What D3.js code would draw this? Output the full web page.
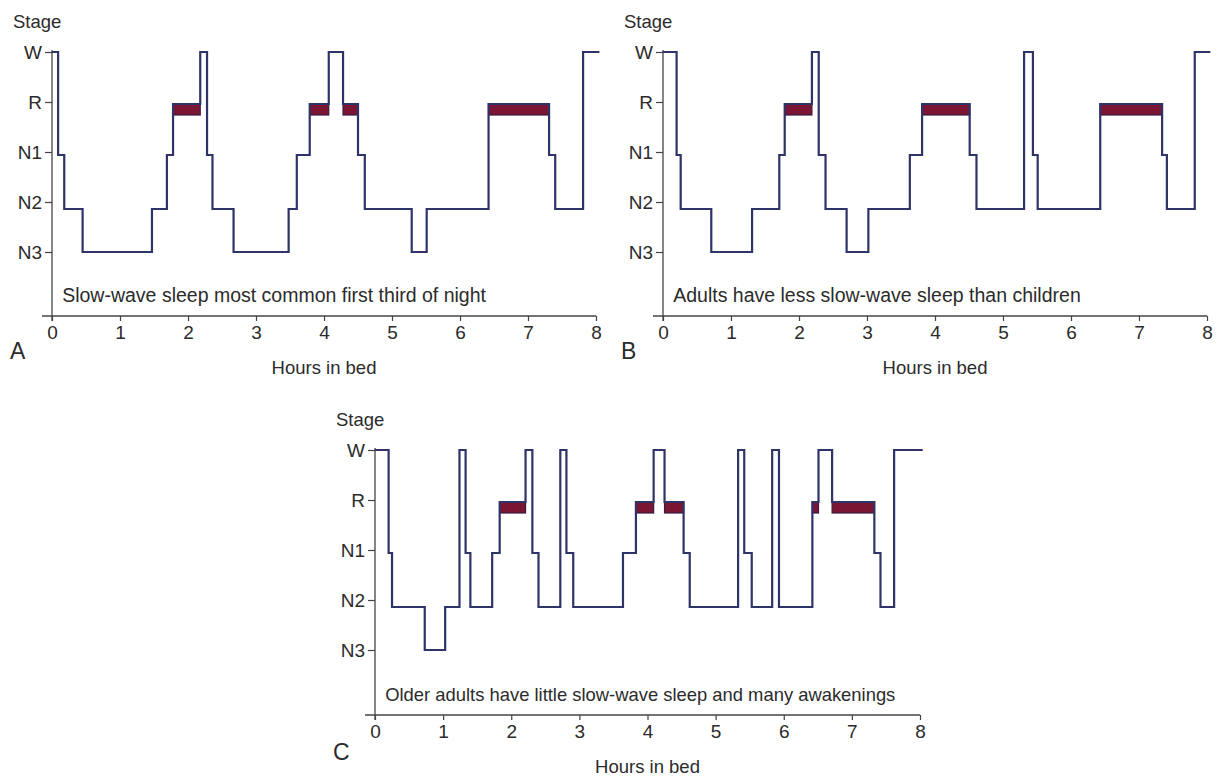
<!DOCTYPE html>
<html>
<head>
<meta charset="utf-8">
<script src="https://cdn.jsdelivr.net/npm/d3@7"></script>
<style>
  html, body { margin: 0; padding: 0; background: #ffffff; }
  svg { display: block; }
  text { font-family: "Liberation Sans", Arial, Helvetica, sans-serif; fill: #2b2b2b; }
</style>
</head>
<body>
<svg id="chart" width="1217" height="776"></svg>
<script>
// ---------- data ----------
const stageLabels = ["W", "R", "N1", "N2", "N3"];
// plotted level of each stage (0 = W at top), as drawn in the figure
const stageLevels = { W: 0, R: 1.04, N1: 2.06, N2: 3.14, N3: 4 };
const hourTicks = [0, 1, 2, 3, 4, 5, 6, 7, 8];

// Panel A: children
const timesA  = [0, 0.09, 0.18, 0.45, 1.47, 1.69, 1.78, 2.18, 2.28, 2.36, 2.67, 3.48, 3.60, 3.79, 4.07, 4.28, 4.50, 4.60, 5.29, 5.51, 6.42, 7.31, 7.40, 7.81];
const stagesA = ["W", "N1", "N2", "N3", "N2", "N1", "R", "W", "N1", "N2", "N3", "N2", "N1", "R", "W", "R", "N1", "N2", "N3", "N2", "R", "N1", "N2", "W"];
const endA = 8.05;
const noteA = "Slow-wave sleep most common first third of night";

// Panel B: adults
const timesB  = [0, 0.20, 0.26, 0.71, 1.31, 1.71, 1.79, 2.19, 2.29, 2.39, 2.70, 3.02, 3.63, 3.81, 4.51, 4.61, 5.31, 5.44, 5.51, 6.43, 7.34, 7.41, 7.82];
const stagesB = ["W", "N1", "N2", "N3", "N2", "N1", "R", "W", "N1", "N2", "N3", "N2", "N1", "R", "N1", "N2", "W", "N1", "N2", "R", "N1", "N2", "W"];
const endB = 8.05;
const noteB = "Adults have less slow-wave sleep than children";

// Panel C: older adults
const timesC  = [0, 0.20, 0.25, 0.73, 1.03, 1.24, 1.33, 1.40, 1.72, 1.83, 2.21, 2.31, 2.40, 2.72, 2.81, 2.91, 3.64, 3.83, 4.09, 4.25, 4.53, 4.62, 5.33, 5.42, 5.53, 5.83, 5.93, 6.42, 6.51, 6.71, 7.33, 7.42, 7.62];
const stagesC = ["W", "N1", "N2", "N3", "N2", "W", "N1", "N2", "N1", "R", "W", "N1", "N2", "W", "N1", "N2", "N1", "R", "W", "R", "N1", "N2", "W", "N1", "N2", "W", "N2", "R", "W", "R", "N1", "N2", "W"];
const endC = 8.04;
const noteC = "Older adults have little slow-wave sleep and many awakenings";

// ---------- layout ----------
const panels = [
  { letter: "A", times: timesA, stages: stagesA, end: endA, note: noteA, noteSize: 19.5, x0: 52,  x1: 596,  yTop: 52,  yAxis: 316, letterDy: 43 },
  { letter: "B", times: timesB, stages: stagesB, end: endB, note: noteB, noteSize: 19.5, x0: 663, x1: 1207, yTop: 52,  yAxis: 316, letterDy: 43 },
  { letter: "C", times: timesC, stages: stagesC, end: endC, note: noteC, noteSize: 18.4, x0: 375, x1: 920,  yTop: 450, yAxis: 715, letterDy: 45 }
];

const lineColor = "#2e3368";
const remColor = "#7a1533";
const axisColor = "#444444";

const svg = d3.select("#chart");

panels.forEach(p => {
  const g = svg.append("g");
  const x = d3.scaleLinear().domain([0, 8]).range([p.x0, p.x1]);
  const y = d3.scaleLinear().domain([0, 4]).range([p.yTop, p.yTop + 200]);
  const axisLevel = y.invert(p.yAxis);

  // x axis
  const xAxis = d3.axisBottom(x).tickValues(hourTicks).tickFormat(d3.format("d"))
    .tickSize(5).tickSizeOuter(0).tickPadding(5);
  const gx = g.append("g").attr("transform", `translate(0,${p.yAxis})`).call(xAxis);
  gx.select(".domain").remove();
  gx.selectAll(".tick line").attr("stroke", axisColor).attr("stroke-width", 1.2);
  gx.selectAll(".tick text").style("font-size", "19px").attr("fill", "#2b2b2b")
    .style("font-family", '"Liberation Sans", Arial, sans-serif');
  g.append("line")
    .attr("x1", p.x0 - 10).attr("x2", p.x1)
    .attr("y1", p.yAxis).attr("y2", p.yAxis)
    .attr("stroke", axisColor).attr("stroke-width", 1.3);

  // y axis
  const yAxis = d3.axisLeft(y).tickValues(d3.range(stageLabels.length))
    .tickFormat(i => stageLabels[i]).tickSize(7).tickSizeOuter(0).tickPadding(3);
  const gy = g.append("g").attr("transform", `translate(${p.x0},0)`).call(yAxis);
  gy.select(".domain").remove();
  gy.selectAll(".tick line").attr("stroke", axisColor).attr("stroke-width", 1.2);
  gy.selectAll(".tick text").style("font-size", "19px").attr("fill", "#2b2b2b")
    .style("font-family", '"Liberation Sans", Arial, sans-serif');
  g.append("line")
    .attr("x1", p.x0).attr("x2", p.x0)
    .attr("y1", y(0) - 2).attr("y2", y(axisLevel) + 5)
    .attr("stroke", axisColor).attr("stroke-width", 1.3);

  // REM bars
  const segs = p.stages.map((s, i) => ({
    stage: s, t0: p.times[i], t1: i + 1 < p.times.length ? p.times[i + 1] : p.end
  }));
  g.selectAll("rect.rem").data(segs.filter(d => d.stage === "R")).join("rect")
    .attr("class", "rem")
    .attr("x", d => x(d.t0)).attr("width", d => x(d.t1) - x(d.t0))
    .attr("y", y(stageLevels.R)).attr("height", y(1.26) - y(stageLevels.R))
    .attr("fill", remColor).attr("stroke", "#3a1b3e").attr("stroke-width", 1.2);

  // hypnogram line
  const pts = p.stages.map((s, i) => [p.times[i], stageLevels[s]]);
  pts.push([p.end, stageLevels[p.stages[p.stages.length - 1]]]);
  const line = d3.line().x(d => x(d[0])).y(d => y(d[1])).curve(d3.curveStepAfter);
  g.append("path").datum(pts).attr("d", line)
    .attr("fill", "none").attr("stroke", lineColor).attr("stroke-width", 2.2)
    .attr("stroke-linejoin", "miter");

  // texts
  g.append("text").attr("x", p.x0 - 39).attr("y", p.yTop - 24)
    .style("font-size", "18.5px").text("Stage");
  g.append("text").attr("x", x(0.15)).attr("y", p.yAxis - 14)
    .style("font-size", p.noteSize + "px").text(p.note);
  g.append("text").attr("x", x(4)).attr("y", p.yAxis + 58).attr("text-anchor", "middle")
    .style("font-size", "18.5px").text("Hours in bed");
  g.append("text").attr("x", p.x0 - 42).attr("y", p.yAxis + p.letterDy)
    .style("font-size", "23px").text(p.letter);
});
</script>
</body>
</html>
